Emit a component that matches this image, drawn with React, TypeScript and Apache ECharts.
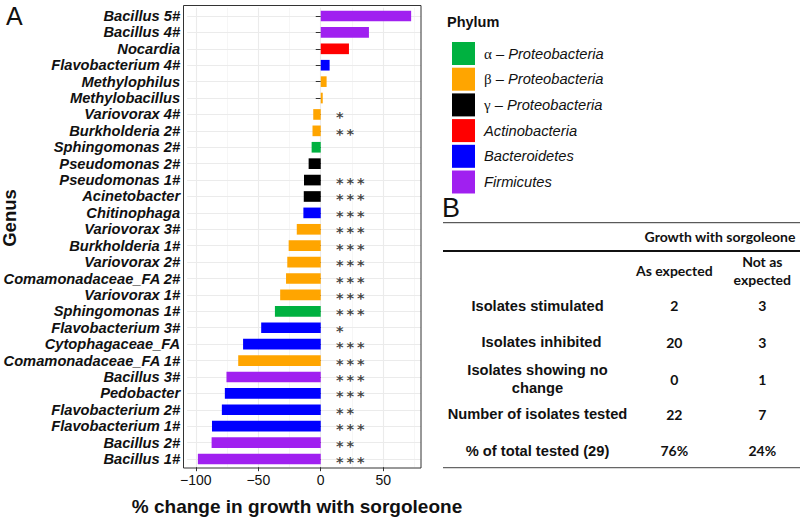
import React, { useEffect, useRef } from "react";
import * as echarts from "echarts";

const genus = [
  "Bacillus 5#", "Bacillus 4#", "Nocardia", "Flavobacterium 4#", "Methylophilus",
  "Methylobacillus", "Variovorax 4#", "Burkholderia 2#", "Sphingomonas 2#", "Pseudomonas 2#",
  "Pseudomonas 1#", "Acinetobacter", "Chitinophaga", "Variovorax 3#", "Burkholderia 1#",
  "Variovorax 2#", "Comamonadaceae_FA 2#", "Variovorax 1#", "Sphingomonas 1#", "Flavobacterium 3#",
  "Cytophagaceae_FA", "Comamonadaceae_FA 1#", "Bacillus 3#", "Pedobacter", "Flavobacterium 2#",
  "Flavobacterium 1#", "Bacillus 2#", "Bacillus 1#",
];
const change = [
  72.4, 38.6, 22.6, 7.1, 4.7,
  1.6, -6.0, -6.6, -7.3, -9.7,
  -13.4, -13.6, -13.9, -19.2, -25.7,
  -26.8, -27.8, -32.5, -36.7, -47.7,
  -62.2, -66.1, -75.5, -76.8, -79.2,
  -87.1, -87.4, -98.4,
];
const phylumOf = [
  5, 5, 3, 4, 1,
  1, 1, 1, 0, 2,
  2, 2, 4, 1, 1,
  1, 1, 1, 0, 4,
  4, 1, 5, 4, 4,
  4, 5, 5,
];
const stars = [
  "", "", "", "", "",
  "", "*", "**", "", "",
  "***", "***", "***", "***", "***",
  "***", "***", "***", "***", "*",
  "***", "***", "***", "***", "**",
  "***", "**", "***",
];
const phylaNames = [
  "α – Proteobacteria", "β – Proteobacteria", "γ – Proteobacteria",
  "Actinobacteria", "Bacteroidetes", "Firmicutes",
];
const phylaColors = ["#00B140", "#FFA500", "#000000", "#FF0000", "#0000FF", "#A020F0"];
const xMajor = [-100, -50, 0, 50];
const xMinor = [-75, -25, 25, 75];
const STAR_X = 12.3;

const tableRowLabels = [
  ["Isolates stimulated"],
  ["Isolates inhibited"],
  ["Isolates showing no", "change"],
  ["Number of isolates tested"],
  ["% of total tested (29)"],
];
const asExpected = ["2", "20", "0", "22", "76%"];
const notAsExpected = ["3", "3", "1", "7", "24%"];

const SANS = "'Liberation Sans', Arial, sans-serif";
const CAL = "Lato, 'Open Sans', sans-serif";

export default function App() {
  const ref = useRef<HTMLDivElement>(null);
  useEffect(() => {
    if (!ref.current) return;
    const chart = echarts.init(ref.current, undefined, { renderer: "svg" });

    const barSeries = phylaNames.map((name, p) => ({
      name,
      type: "bar",
      stack: "total",
      z: 2,
      barWidth: "65%",
      itemStyle: { color: phylaColors[p] },
      data: change.map((v, i) => (phylumOf[i] === p ? v : "-")),
    }));

    const rowY = [305.7, 342, 379, 414.3, 450.7];
    const rowX = [537.5, 541.5, 537.5, 537.5, 537.5];
    const tableEls: any[] = [];
    tableRowLabels.forEach((lines, r) => {
      const n = lines.length;
      lines.forEach((t, k) => {
        tableEls.push({
          type: "text",
          x: rowX[r],
          y: rowY[r] + (k - (n - 1) / 2) * 17.7,
          style: {
            text: t, align: "center", verticalAlign: "middle",
            font: `bold 14.7px ${SANS}`, fill: "#111",
          },
        });
      });
      tableEls.push({
        type: "text", x: 674.3, y: rowY[r],
        style: { text: asExpected[r], align: "center", verticalAlign: "middle", font: `bold 14px ${CAL}`, fill: "#111" },
      });
      tableEls.push({
        type: "text", x: 762.3, y: rowY[r],
        style: { text: notAsExpected[r], align: "center", verticalAlign: "middle", font: `bold 14px ${CAL}`, fill: "#111" },
      });
    });

    const option: any = {
      animation: false,
      backgroundColor: "#ffffff",
      grid: { left: 183, top: 7.8, width: 238, height: 459.4, containLabel: false },
      xAxis: {
        type: "value",
        min: -107,
        max: 80.3,
        axisLine: { show: false },
        axisTick: { show: true, length: 4, lineStyle: { color: "#333" }, customValues: xMajor },
        axisLabel: {
          show: true, customValues: xMajor, margin: 6,
          fontSize: 14, fontFamily: SANS, color: "#111",
          formatter: (v: number) => (v < 0 ? "−" + Math.abs(v) : String(v)),
        },
        splitLine: { show: false },
      },
      yAxis: {
        type: "category",
        data: genus,
        inverse: true,
        axisLine: { show: false },
        axisTick: { show: true, alignWithLabel: true, interval: 0, length: 5, lineStyle: { color: "#333" } },
        axisLabel: {
          interval: 0,
          margin: 7, fontSize: 14.7, fontFamily: SANS, fontStyle: "italic",
          fontWeight: "bold", color: "#111", lineHeight: 15,
        },
        splitLine: { show: false },
      },
      legend: {
        orient: "vertical",
        left: 447,
        top: 37,
        itemWidth: 23,
        itemHeight: 23,
        itemGap: 2.7,
        icon: "rect",
        data: phylaNames,
        selectedMode: false,
        textStyle: {
          fontFamily: SANS, fontSize: 14.7, fontStyle: "italic", color: "#111",
          rich: {
            g: { fontFamily: "'Liberation Serif', serif", fontStyle: "normal", fontSize: 15, padding: [0, 0, 0, 4], color: "#111" },
            i: { fontFamily: SANS, fontStyle: "italic", fontSize: 14.7, color: "#111" },
            p: { fontFamily: SANS, fontStyle: "italic", fontSize: 14.7, padding: [0, 0, 0, 4], color: "#111" },
          },
        },
        formatter: (name: string) => {
          if (/^[αβγ]/.test(name)) return `{g|${name[0]}}{i|${name.slice(1)}}`;
          return `{p|${name}}`;
        },
      },
      series: [
        {
          type: "line",
          name: "grid",
          data: [],
          z: 0,
          silent: true,
          markLine: {
            z: 0,
            silent: true,
            symbol: ["none", "none"],
            label: { show: false },
            animation: false,
            data: [
              ...xMinor.map((v) => ({ xAxis: v, lineStyle: { color: "#f2f2f2", width: 0.7, type: "solid" } })),
              ...xMajor.map((v) => ({ xAxis: v, lineStyle: { color: "#ebebeb", width: 1.1, type: "solid" } })),
              ...genus.map((g) => ({ yAxis: g, lineStyle: { color: "#ebebeb", width: 1.1, type: "solid" } })),
            ],
          },
        },
        ...barSeries,
        {
          type: "scatter",
          name: "stars",
          z: 3,
          symbolSize: 0,
          silent: true,
          data: genus.map((g) => [STAR_X, g]),
          label: {
            show: true,
            position: "right",
            distance: 0,
            offset: [0, 3],
            fontFamily: "'DejaVu Sans', sans-serif",
            fontWeight: "bold",
            fontSize: 14.5,
            lineHeight: 12,
            color: "#111",
            formatter: (p: any) => (stars[p.dataIndex] || "").split("").join("\u2009"),
          },
        },
      ],
      graphic: [
        { type: "rect", shape: { x: 183.5, y: 5.5, width: 237.5, height: 462.5 }, style: { fill: "none", stroke: "#333", lineWidth: 1 }, z: 10 },
        { type: "text", x: 6, y: 3, style: { text: "A", font: `25px ${SANS}`, fill: "#111" } },
        { type: "text", x: 442, y: 194, style: { text: "B", font: `27px ${SANS}`, fill: "#111" } },
        { type: "text", x: 9, y: 218, rotation: Math.PI / 2, style: { text: "Genus", align: "center", verticalAlign: "middle", font: `bold 18.5px ${SANS}`, fill: "#111" } },
        { type: "text", x: 297, y: 506, style: { text: "% change in growth with sorgoleone", align: "center", verticalAlign: "middle", font: `bold 19px ${SANS}`, fill: "#111" } },
        { type: "text", x: 447, y: 22, style: { text: "Phylum", verticalAlign: "middle", font: `bold 14.5px ${SANS}`, fill: "#111" } },
        { type: "line", shape: { x1: 443, y1: 222.7, x2: 800, y2: 222.7 }, style: { stroke: "#333", lineWidth: 1 } },
        { type: "line", shape: { x1: 443, y1: 251, x2: 800, y2: 251 }, style: { stroke: "#111", lineWidth: 2 } },
        { type: "line", shape: { x1: 443, y1: 467.7, x2: 800, y2: 467.7 }, style: { stroke: "#666", lineWidth: 1.3 } },
        { type: "text", x: 720, y: 236.7, style: { text: "Growth with sorgoleone", align: "center", verticalAlign: "middle", font: `bold 14px ${CAL}`, fill: "#111" } },
        { type: "text", x: 674.3, y: 270, style: { text: "As expected", align: "center", verticalAlign: "middle", font: `bold 14px ${CAL}`, fill: "#111" } },
        { type: "text", x: 762.3, y: 261, style: { text: "Not as", align: "center", verticalAlign: "middle", font: `bold 14px ${CAL}`, fill: "#111" } },
        { type: "text", x: 762.3, y: 279, style: { text: "expected", align: "center", verticalAlign: "middle", font: `bold 14px ${CAL}`, fill: "#111" } },
        ...tableEls,
      ],
    };
    chart.setOption(option);
    return () => chart.dispose();
  }, []);
  return <div ref={ref} style={{ width: 800, height: 518, position: "absolute", left: 0, top: 0 }} />;
}
